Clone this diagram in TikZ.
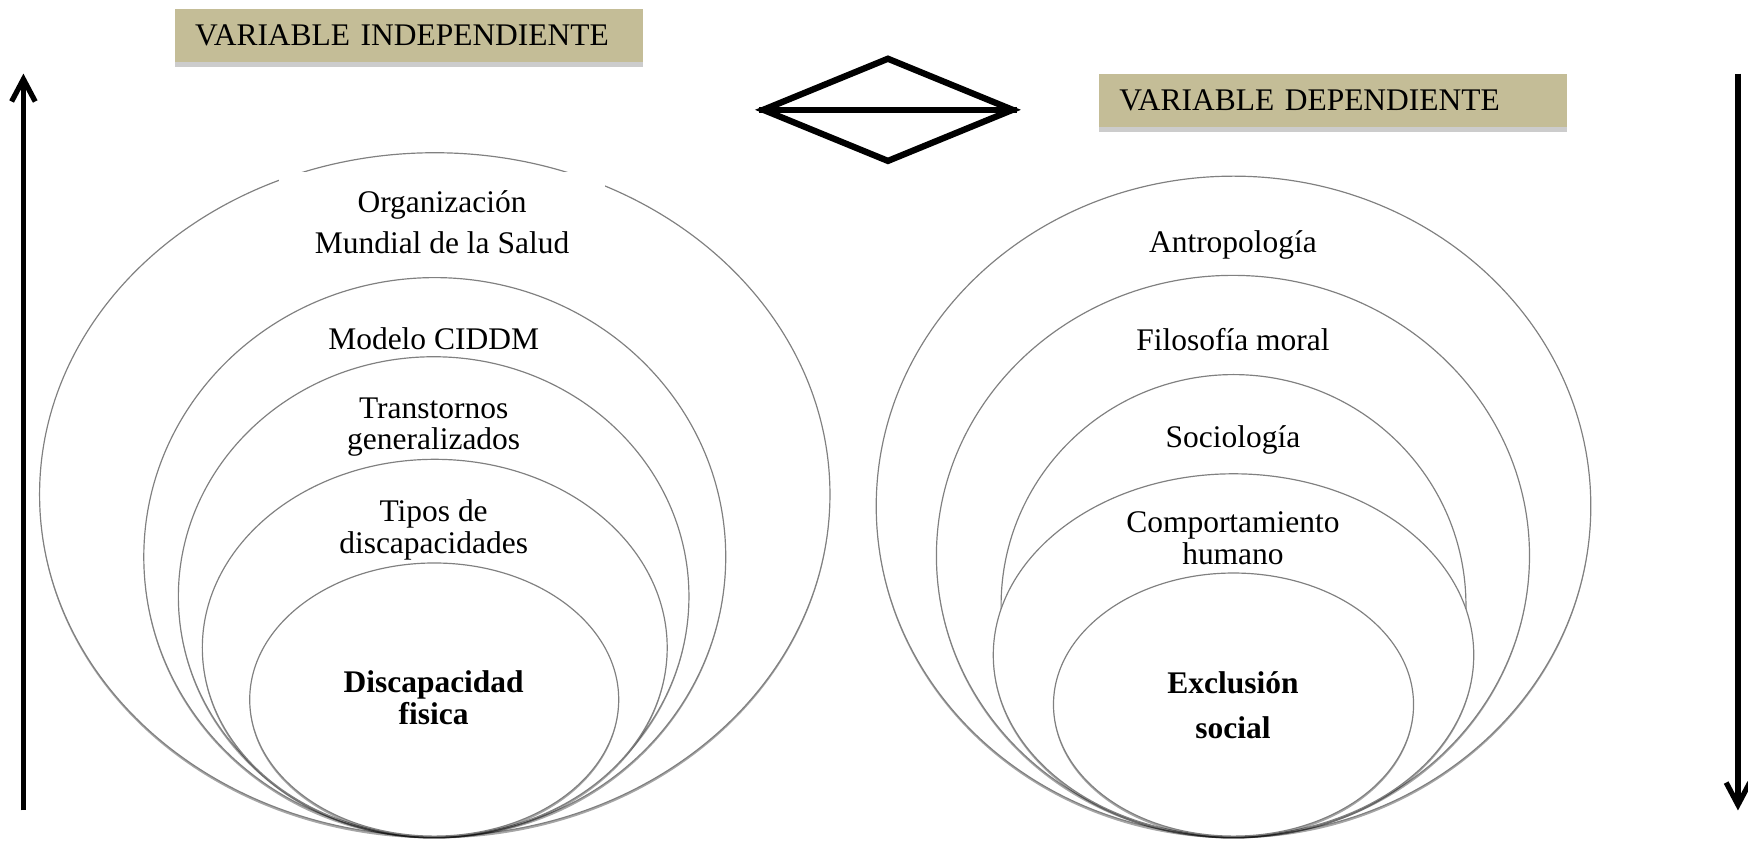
\documentclass[tikz,border=0pt]{standalone}
\usepackage{fontspec}
\setmainfont{Liberation Serif}
\usetikzlibrary{shapes.geometric,shadows,arrows.meta}
\definecolor{caqui}{RGB}{196,189,151}

\begin{document}
\begin{tikzpicture}[x=0.425pt, y=-0.425pt,
    aro/.style={ellipse, draw=black!50, line width=0.45pt, fill=white, inner sep=0pt,
        drop shadow={shadow xshift=0pt, shadow yshift=-0.9pt, fill=black, opacity=0.35}},
    rotulo/.style={align=center, font=\fontsize{12}{12}\selectfont, inner sep=0pt},
    varbox/.style={fill=caqui, text width=163.2pt, align=left, inner xsep=7.65pt, inner ysep=0pt,
        minimum height=20.4pt, font=\fontsize{12}{14}\selectfont,
        drop shadow={shadow xshift=0pt, shadow yshift=-1.7pt, fill=black!20, opacity=1}},
    flecha/.style={line width=2pt, -{Straight Barb[length=8.5pt, width=9pt]}}]
\newcommand\px{0.425pt}
\useasboundingbox (0,0) rectangle (1568,754);
%---------------------------------------------------------
%titulos
\node[varbox] (vi) at (367,32) {VARIABLE INDEPENDIENTE};
\node[varbox] (vd) at (1196,90) {VARIABLE DEPENDIENTE};
%  /\
% <-->
%  \/
\node[diamond, draw, line width=2.4pt, minimum width=226*\px, minimum height=94*\px, inner sep=0pt] (rel) at (796.5,98.5) {};
\draw[line width=2.4pt] (rel.west) -- (rel.east);
%---------------------------------------------------------
%anillos izquierda, de fuera hacia dentro
\node[aro, minimum width=709*\px, minimum height=613*\px] (oms) at (390,443.5) {};
\node[rotulo, fill=white, minimum width=293*\px, minimum height=90*\px] (t-oms) at (396.5,199) {Organización\\[3.7pt]Mundial de la Salud};
\node[aro, minimum width=522*\px, minimum height=501*\px] (ciddm) at (390,499.5) {};
\node[rotulo] (t-ciddm) at (389,304) {Modelo CIDDM};
\node[aro, minimum width=458*\px, minimum height=430*\px] (trans) at (389,535) {};
\node[rotulo] (t-trans) at (389,383) {Transtornos\\generalizados};
\node[aro, minimum width=417*\px, minimum height=338*\px] (tipos) at (390,581) {};
\node[rotulo] (t-tipos) at (389,475.5) {Tipos de\\discapacidades};
\node[aro, minimum width=331*\px, minimum height=245*\px] (fisica) at (389.5,627.5) {};
\node[rotulo, font=\fontsize{12}{12}\selectfont\bfseries] (t-fisica) at (389,626) {Discapacidad\\fisica};
%---------------------------------------------------------
%anillos derecha
\node[aro, minimum width=641*\px, minimum height=592*\px] (antro) at (1106.5,454) {};
\node[rotulo] (t-antro) at (1106,220) {Antropología};
\node[aro, minimum width=532*\px, minimum height=503*\px] (filo) at (1106,498.5) {};
\node[rotulo] (t-filo) at (1106,305) {Filosofía moral};
\node[aro, minimum width=417*\px, minimum height=414*\px] (socio) at (1106.5,543) {};
\node[rotulo] (t-socio) at (1106,395) {Sociología};
\node[aro, minimum width=431*\px, minimum height=325*\px] (comp) at (1106.5,587.5) {};
\node[rotulo] (t-comp) at (1106,483) {Comportamiento\\humano};
\node[aro, minimum width=323*\px, minimum height=236*\px] (exclu) at (1106.5,632) {};
\node[rotulo, font=\fontsize{12}{12}\selectfont\bfseries] (t-exclu) at (1106,632.5) {Exclusión\\[5.4pt]social};
%---------------------------------------------------------
%flechas laterales
\coordinate (sube-a) at (21,727);
\coordinate (sube-b) at (21,66);
\draw[flecha] (sube-a) -- (sube-b);
\coordinate (baja-a) at (1559,66);
\coordinate (baja-b) at (1559,727);
\draw[flecha] (baja-a) -- (baja-b);
\end{tikzpicture}
\end{document}
